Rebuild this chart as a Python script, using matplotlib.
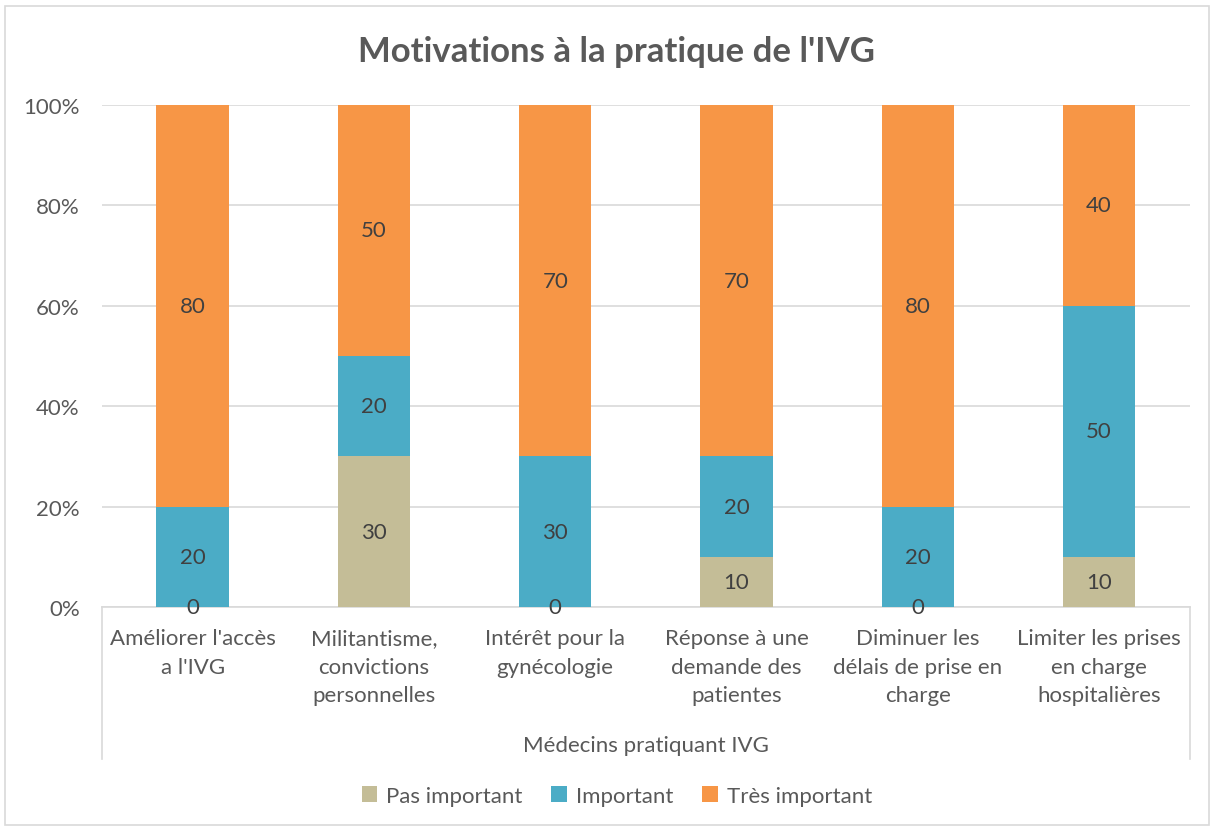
import matplotlib.pyplot as plt
from matplotlib.patches import Rectangle
import numpy as np

categories = ["Améliorer l'accès\na l'IVG", "Militantisme,\nconvictions\npersonnelles",
              "Intérêt pour la\ngynécologie", "Réponse à une\ndemande des\npatientes",
              "Diminuer les\ndélais de prise en\ncharge", "Limiter les prises\nen charge\nhospitalières"]
pas_important = [0, 30, 0, 10, 0, 10]
important = [20, 20, 30, 20, 20, 50]
tres_important = [80, 50, 70, 70, 80, 40]
series_names = ["Pas important", "Important", "Très important"]
colors = ["#C4BD97", "#4BACC6", "#F79646"]
text_col = "#595959"

plt.rcParams['font.family'] = ['Lato', 'DejaVu Sans']

fig = plt.figure(figsize=(12.14, 8.29), dpi=100)
ax = fig.add_axes([0.084, 0.2666, 0.896, 0.6056])

fig.patches.append(Rectangle((0.004, 0.004), 0.992, 0.988, transform=fig.transFigure,
                             fill=False, edgecolor="#D9D9D9", linewidth=1.2))

x = np.arange(len(categories))
data = np.array([pas_important, important, tres_important], dtype=float)
totals = data.sum(axis=0)
bottom = np.zeros(len(categories))
for vals, name, c in zip(data, series_names, colors):
    pct = vals / totals * 100
    bars = ax.bar(x, pct, 0.4, bottom=bottom, color=c, label=name, zorder=3)
    ax.bar_label(bars, labels=[f"{int(v)}" for v in vals], label_type='center',
                 fontsize=16, color="#404040", zorder=4)
    bottom += pct

ax.set_xlim(-0.5, len(categories) - 0.5)
ax.set_ylim(0, 100)
ax.set_yticks(np.arange(0, 101, 20))
ax.set_yticklabels([f"{v}%" for v in range(0, 101, 20)])
ax.yaxis.grid(True, color="#D9D9D9", linewidth=1.2, zorder=0)
ax.set_axisbelow(True)
ax.set_xticks(x)
ax.set_xticklabels(categories, linespacing=1.55)
ax.tick_params(axis='both', length=0, labelsize=16, labelcolor=text_col)
ax.tick_params(axis='x', pad=15)
ax.tick_params(axis='y', pad=16)
for s in ['left', 'right', 'top']:
    ax.spines[s].set_visible(False)
ax.spines['bottom'].set_color("#D9D9D9")
ax.spines['bottom'].set_linewidth(1.2)

for xx in (0, 1):
    ax.plot([xx, xx], [0, -0.303], transform=ax.transAxes, color="#D9D9D9",
            linewidth=1.2, clip_on=False)
ax.text(0.5, -0.275, "Médecins pratiquant IVG", transform=ax.transAxes,
        ha='center', va='center', fontsize=16, color=text_col)

fig.text(0.508, 1 - 52 / 829, "Motivations à la pratique de l'IVG", ha='center', va='center',
         fontsize=25, fontweight='bold', color=text_col)

fig.legend(loc='center', bbox_to_anchor=(0.508, 1 - 797 / 829), ncol=3, frameon=False,
           fontsize=16, handlelength=0.7, handleheight=0.7, columnspacing=1.3,
           handletextpad=0.4, labelcolor=text_col)

fig.savefig("out.png", dpi=100)
